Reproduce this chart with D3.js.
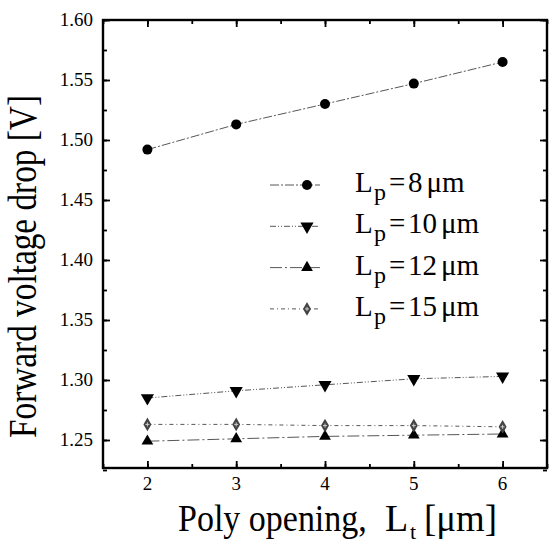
<!DOCTYPE html>
<html>
<head>
<meta charset="utf-8">
<script src="https://cdn.jsdelivr.net/npm/d3@7"></script>
<style>
  body { margin: 0; background: #fff; }
  svg { display: block; }
  svg text { font-family: "Liberation Serif", "DejaVu Serif", serif; fill: #000; }
</style>
</head>
<body>
<svg id="chart" width="550" height="544"></svg>
<script>
// data
var polyOpening = [2, 3, 4, 5, 6];
var lp8  = [1.492, 1.513, 1.530, 1.547, 1.565];
var lp10 = [1.285, 1.291, 1.296, 1.301, 1.303];
var lp12 = [1.249, 1.251, 1.253, 1.254, 1.255];
var lp15 = [1.263, 1.263, 1.262, 1.262, 1.261];
var seriesNames = ["8", "10", "12", "15"];
var xTicks = [2, 3, 4, 5, 6];
var yTicks = [1.25, 1.30, 1.35, 1.40, 1.45, 1.50, 1.55, 1.60];

var svg = d3.select("#chart");
var box = {left: 103, right: 547, top: 20, bottom: 468};

var xScale = d3.scaleLinear().domain([1.5, 6.5]).range([box.left, box.right]);
var yScale = d3.scaleLinear().domain([1.25, 1.60]).range([440, 20]);

var series = [
    {name: seriesNames[0], values: lp8,  symbol: "circle",  dash: "9,2,2,2"},
    {name: seriesNames[1], values: lp10, symbol: "down",    dash: "6,2,1,2,1,2"},
    {name: seriesNames[2], values: lp12, symbol: "up",      dash: "12,3,2,3"},
    {name: seriesNames[3], values: lp15, symbol: "diamond", dash: "4,3,1,3"}
];

// axes: ticks inside, mirrored on top/right
var minorX = d3.range(1.5, 6.51, 0.5);
var minorY = d3.range(1.225, 1.601, 0.025);

var axisG = svg.append("g");
function inner(axis, size) {
    return axis.tickSizeInner(size).tickSizeOuter(0).tickFormat("");
}
axisG.append("g").attr("transform", "translate(0," + box.bottom + ")")
    .call(inner(d3.axisTop(xScale).tickValues(xTicks), 7));
axisG.append("g").attr("transform", "translate(0," + box.bottom + ")")
    .call(inner(d3.axisTop(xScale).tickValues(minorX), 4));
axisG.append("g").attr("transform", "translate(0," + box.top + ")")
    .call(inner(d3.axisBottom(xScale).tickValues(xTicks), 7));
axisG.append("g").attr("transform", "translate(0," + box.top + ")")
    .call(inner(d3.axisBottom(xScale).tickValues(minorX), 4));
axisG.append("g").attr("transform", "translate(" + box.left + ",0)")
    .call(inner(d3.axisRight(yScale).tickValues(yTicks), 7));
axisG.append("g").attr("transform", "translate(" + box.left + ",0)")
    .call(inner(d3.axisRight(yScale).tickValues(minorY), 4));
axisG.append("g").attr("transform", "translate(" + box.right + ",0)")
    .call(inner(d3.axisLeft(yScale).tickValues(yTicks), 7));
axisG.append("g").attr("transform", "translate(" + box.right + ",0)")
    .call(inner(d3.axisLeft(yScale).tickValues(minorY), 4));
axisG.selectAll(".domain").remove();
axisG.selectAll("line").attr("stroke", "#000").attr("stroke-width", 1.8);

svg.append("rect")
    .attr("x", box.left).attr("y", box.top)
    .attr("width", box.right - box.left).attr("height", box.bottom - box.top)
    .attr("fill", "none").attr("stroke", "#000").attr("stroke-width", 2.4);

// tick labels
svg.append("g").selectAll("text").data(yTicks).enter()
    .append("text")
    .attr("x", 93)
    .attr("y", function(d) { return yScale(d) + 6; })
    .attr("text-anchor", "end")
    .attr("font-size", 19)
    .text(function(d) { return d3.format(".2f")(d); });

svg.append("g").selectAll("text").data(xTicks).enter()
    .append("text")
    .attr("x", function(d) { return xScale(d); })
    .attr("y", 490)
    .attr("text-anchor", "middle")
    .attr("font-size", 19)
    .text(function(d) { return d; });

// axis titles
svg.append("text").attr("transform", "translate(178,531) scale(1,1.12)")
    .attr("font-size", 34)
    .text("Poly opening,");
svg.append("text").attr("x", 385).attr("y", 531).attr("font-size", 38).text("L");
svg.append("text").attr("x", 410).attr("y", 539).attr("font-size", 22).text("t");
svg.append("text").attr("x", 424).attr("y", 531).attr("font-size", 38)
    .attr("textLength", 73).attr("lengthAdjust", "spacingAndGlyphs")
    .text("[\u03bcm]");

svg.append("text")
    .attr("transform", "translate(36,438) rotate(-90)")
    .attr("font-size", 40)
    .attr("textLength", 343).attr("lengthAdjust", "spacingAndGlyphs")
    .text("Forward voltage drop [V]");

// markers
function drawMarker(g, kind, x, y) {
    if (kind == "circle") {
        g.append("circle").attr("cx", x).attr("cy", y).attr("r", 5).attr("fill", "#000");
    } else if (kind == "down") {
        g.append("path").attr("transform", "translate(" + x + "," + y + ") rotate(180)")
            .attr("d", d3.symbol().type(d3.symbolTriangle).size(75)()).attr("fill", "#000");
    } else if (kind == "up") {
        g.append("path").attr("transform", "translate(" + x + "," + y + ")")
            .attr("d", d3.symbol().type(d3.symbolTriangle).size(60)()).attr("fill", "#000");
    } else {
        g.append("path").attr("transform", "translate(" + x + "," + y + ")")
            .attr("d", d3.symbol().type(d3.symbolDiamond).size(55)()).attr("fill", "#444");
        g.append("path").attr("transform", "translate(" + x + "," + y + ")")
            .attr("d", "M-2,0H2M0,-2V2").attr("stroke", "#ccc").attr("stroke-width", 1);
    }
}

var line = d3.line()
    .x(function(d) { return xScale(d[0]); })
    .y(function(d) { return yScale(d[1]); });

var plotG = svg.append("g");
series.forEach(function(s) {
    var pts = polyOpening.map(function(x, i) { return [x, s.values[i]]; });
    plotG.append("path").attr("d", line(pts))
        .attr("fill", "none").attr("stroke", "#444").attr("stroke-width", 0.9)
        .attr("stroke-dasharray", s.dash);
    pts.forEach(function(p) { drawMarker(plotG, s.symbol, xScale(p[0]), yScale(p[1])); });
});

// legend
var legendG = svg.append("g");
series.forEach(function(s, i) {
    var cy = 185 + i * 41.3;
    legendG.append("line").attr("x1", 270).attr("x2", 320).attr("y1", cy).attr("y2", cy)
        .attr("stroke", "#444").attr("stroke-width", 0.9).attr("stroke-dasharray", s.dash);
    drawMarker(legendG, s.symbol, 307, cy);
    legendG.append("text").attr("x", 355).attr("y", cy + 7).attr("font-size", 29).text("L");
    legendG.append("text").attr("x", 374).attr("y", cy + 15).attr("font-size", 24).text("p");
    legendG.append("text").attr("x", 389).attr("y", cy + 7).attr("font-size", 29).text("=");
    var num = legendG.append("text").attr("x", 408).attr("y", cy + 7).attr("font-size", 29)
        .text(s.name);
    var numEnd = 408 + num.node().getComputedTextLength();
    legendG.append("text").attr("x", numEnd + 4).attr("y", cy + 7).attr("font-size", 29)
        .text("\u03bcm");
});
</script>
</body>
</html>
